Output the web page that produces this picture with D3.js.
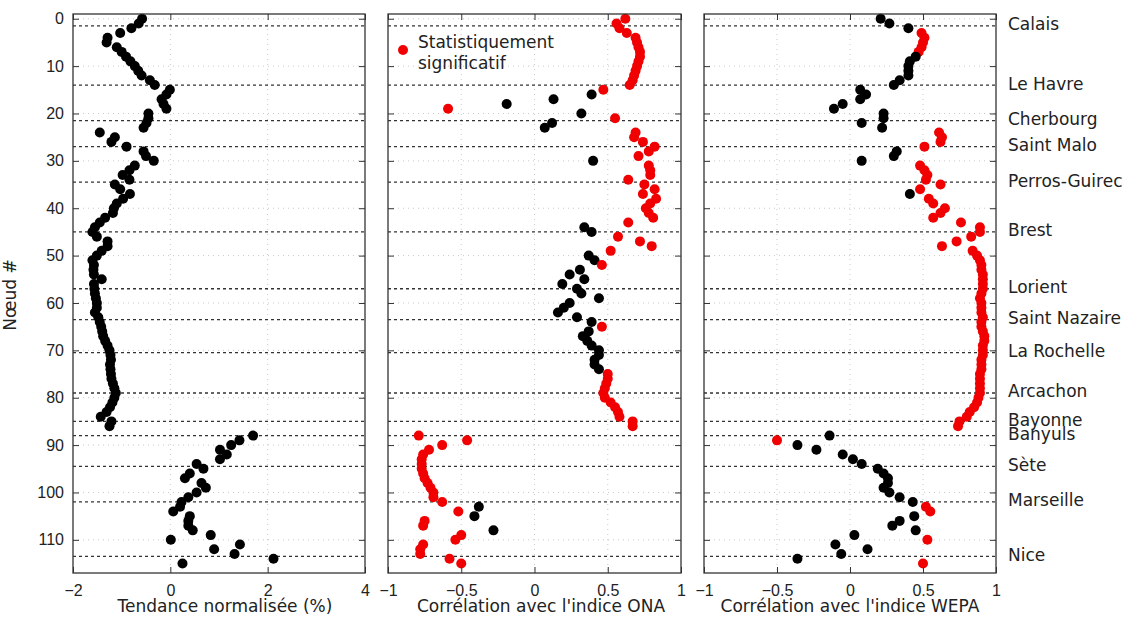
<!DOCTYPE html>
<html>
<head>
<meta charset="utf-8">
<script src="https://cdn.jsdelivr.net/npm/d3@7"></script>
<style>
  body { margin: 0; background: #fff; }
  text { font-family: "DejaVu Sans", sans-serif; fill: #222; }
</style>
</head>
<body>
<svg id="chart" width="1128" height="617"></svg>
<script>
// data ------------------------------------------------------------------------
// one value per node (0..115), node 87 has no data
var tendance = [-0.58, -0.65, -0.80, -1.03, -1.29, -1.31, -1.10, -1.00, -0.91, -0.82,
    -0.73, -0.66, -0.59, -0.42, -0.32, -0.01, -0.08, -0.18, -0.14, -0.08,
    -0.45, -0.45, -0.49, -0.55, -1.45, -1.14, -1.21, -0.90, -0.55, -0.50,
    -0.34, -0.73, -0.84, -0.98, -0.84, -1.14, -1.03, -0.83, -0.97, -1.10,
    -1.16, -1.18, -1.34, -1.45, -1.55, -1.60, -1.51, -1.29, -1.29, -1.41,
    -1.51, -1.60, -1.57, -1.58, -1.57, -1.41, -1.57, -1.56, -1.55, -1.53,
    -1.51, -1.51, -1.55, -1.48, -1.45, -1.42, -1.40, -1.38, -1.34, -1.29,
    -1.25, -1.23, -1.22, -1.24, -1.23, -1.22, -1.21, -1.18, -1.15, -1.12,
    -1.15, -1.19, -1.24, -1.31, -1.43, -1.21, -1.25, null, 1.70, 1.42,
    1.25, 1.02, 1.16, 1.02, 0.54, 0.68, 0.40, 0.30, 0.64, 0.73,
    0.54, 0.37, 0.23, 0.20, 0.06, 0.40, 0.37, 0.37, 0.46, 0.83,
    0.01, 1.43, 0.90, 1.32, 2.12, 0.25];

var ona = [0.62, 0.56, 0.58, 0.63, 0.69, 0.70, 0.71, 0.72, 0.72, 0.71,
    0.70, 0.69, 0.68, 0.67, 0.65, 0.47, 0.39, 0.13, -0.19, -0.59,
    0.32, 0.55, 0.12, 0.07, 0.69, 0.68, 0.74, 0.82, 0.78, 0.71,
    0.40, 0.78, 0.79, 0.79, 0.64, 0.75, 0.82, 0.74, 0.83, 0.79,
    0.76, 0.78, 0.81, 0.64, 0.34, 0.39, 0.57, 0.72, 0.80, 0.52,
    0.37, 0.41, 0.46, 0.31, 0.24, 0.34, 0.19, 0.29, 0.32, 0.44,
    0.24, 0.20, 0.16, 0.29, 0.39, 0.46, 0.37, 0.33, 0.36, 0.39,
    0.44, 0.44, 0.41, 0.41, 0.44, 0.50, 0.50, 0.49, 0.48, 0.47,
    0.48, 0.52, 0.55, 0.57, 0.58, 0.67, 0.67, null, -0.79, -0.46,
    -0.63, -0.72, -0.76, -0.77, -0.77, -0.77, -0.76, -0.75, -0.73, -0.71,
    -0.69, -0.69, -0.63, -0.38, -0.52, -0.41, -0.75, -0.76, -0.28, -0.50,
    -0.54, -0.76, -0.78, -0.78, -0.58, -0.50];

var wepa = [0.21, 0.27, 0.40, 0.49, 0.51, 0.50, 0.49, 0.47, 0.45, 0.41,
    0.40, 0.40, 0.40, 0.34, 0.30, 0.07, 0.11, 0.07, -0.05, -0.11,
    0.23, 0.23, 0.08, 0.22, 0.61, 0.63, 0.62, 0.51, 0.32, 0.30,
    0.08, 0.48, 0.51, 0.53, 0.52, 0.62, 0.48, 0.41, 0.54, 0.57,
    0.65, 0.62, 0.57, 0.76, 0.89, 0.89, 0.83, 0.73, 0.63, 0.84,
    0.87, 0.89, 0.90, 0.90, 0.91, 0.91, 0.91, 0.91, 0.90, 0.89,
    0.90, 0.90, 0.90, 0.91, 0.90, 0.90, 0.91, 0.92, 0.92, 0.91,
    0.91, 0.91, 0.90, 0.90, 0.90, 0.89, 0.89, 0.89, 0.89, 0.89,
    0.88, 0.87, 0.85, 0.82, 0.80, 0.75, 0.74, null, -0.14, -0.50,
    -0.36, -0.23, -0.05, 0.02, 0.08, 0.19, 0.23, 0.26, 0.26, 0.23,
    0.27, 0.34, 0.43, 0.52, 0.55, 0.44, 0.34, 0.29, 0.45, 0.03,
    0.53, -0.10, 0.12, -0.06, -0.36, 0.50];

// 1 = statistiquement significatif (red)
var onaSig = [1, 1, 1, 1, 1, 1, 1, 1, 1, 1, 1, 1, 1, 1, 1, 1, 0, 0, 0, 1,
    0, 1, 0, 0, 1, 1, 1, 1, 1, 1, 0, 1, 1, 1, 1, 1, 1, 1, 1, 1,
    1, 1, 1, 1, 0, 0, 1, 1, 1, 1, 0, 0, 1, 0, 0, 0, 0, 0, 0, 0,
    0, 0, 0, 0, 0, 1, 0, 0, 0, 0, 0, 0, 0, 0, 0, 1, 1, 1, 1, 1,
    1, 1, 1, 1, 1, 1, 1, 0, 1, 1, 1, 1, 1, 1, 1, 1, 1, 1, 1, 1,
    1, 1, 1, 0, 1, 0, 1, 1, 0, 1, 1, 1, 1, 1, 1, 1];

var wepaSig = [0, 0, 0, 1, 1, 1, 1, 1, 0, 0, 0, 0, 0, 0, 0, 0, 0, 0, 0, 0,
    0, 0, 0, 0, 1, 1, 1, 1, 0, 0, 0, 1, 1, 1, 1, 1, 1, 0, 1, 1,
    1, 1, 1, 1, 1, 1, 1, 1, 1, 1, 1, 1, 1, 1, 1, 1, 1, 1, 1, 1,
    1, 1, 1, 1, 1, 1, 1, 1, 1, 1, 1, 1, 1, 1, 1, 1, 1, 1, 1, 1,
    1, 1, 1, 1, 1, 1, 1, 0, 0, 1, 0, 0, 0, 0, 0, 0, 0, 0, 0, 0,
    0, 0, 0, 1, 1, 0, 0, 0, 0, 0, 1, 0, 0, 0, 0, 1];

var cities = ["Calais", "Le Havre", "Cherbourg", "Saint Malo", "Perros-Guirec", "Brest", "Lorient",
    "Saint Nazaire", "La Rochelle", "Arcachon", "Bayonne", "Banyuls", "Sète", "Marseille", "Nice"];
var cityNodes = [1.5, 14, 21.5, 27, 34.5, 45, 57, 63.5, 70.5, 79, 85, 88, 94.5, 102, 113.5];

var yTicks = [0, 10, 20, 30, 40, 50, 60, 70, 80, 90, 100, 110];
var trendTicks = [-2, 0, 2, 4];
var corrTicks = [-1, -0.5, 0, 0.5, 1];

// layout ----------------------------------------------------------------------
var plotTop = 14, plotBottom = 573;
var svg = d3.select("#chart");

var y = d3.scaleLinear()
    .domain([-1, 117])
    .range([plotTop, plotBottom]);

var panels = [
    { values: tendance, sig: null, x0: 73, x1: 365, domain: [-2, 4], ticks: trendTicks, title: "Tendance normalisée (%)", titleX: 225 },
    { values: ona, sig: onaSig, x0: 388, x1: 681, domain: [-1, 1], ticks: corrTicks, title: "Corrélation avec l'indice ONA", titleX: 541 },
    { values: wepa, sig: wepaSig, x0: 704, x1: 996, domain: [-1, 1], ticks: corrTicks, title: "Corrélation avec l'indice WEPA", titleX: 850 }
];

var fmt = d3.format("~g");

panels.forEach(function (p, pi) {
    var x = d3.scaleLinear().domain(p.domain).range([p.x0, p.x1]);
    var g = svg.append("g");

    // grid (light dotted)
    g.selectAll(".vgrid")
        .data(p.ticks.slice(1, -1))
        .enter().append("line")
        .attr("x1", function (d) { return x(d); })
        .attr("x2", function (d) { return x(d); })
        .attr("y1", plotTop).attr("y2", plotBottom)
        .attr("stroke", "#c8c8c8")
        .attr("stroke-dasharray", "1,4");

    g.selectAll(".hgrid")
        .data(yTicks)
        .enter().append("line")
        .attr("x1", p.x0).attr("x2", p.x1)
        .attr("y1", function (d) { return y(d); })
        .attr("y2", function (d) { return y(d); })
        .attr("stroke", "#c8c8c8")
        .attr("stroke-dasharray", "1,4");

    // city separators
    g.selectAll(".city")
        .data(cityNodes)
        .enter().append("line")
        .attr("x1", p.x0).attr("x2", p.x1)
        .attr("y1", function (d) { return y(d); })
        .attr("y2", function (d) { return y(d); })
        .attr("stroke", "#333")
        .attr("stroke-width", 1.3)
        .attr("stroke-dasharray", "3,3");

    // points
    g.selectAll("circle")
        .data(p.values.map(function (v, i) { return { node: i, v: v, s: p.sig ? p.sig[i] : 0 }; })
            .filter(function (d) { return d.v !== null; }))
        .enter().append("circle")
        .attr("cx", function (d) { return x(d.v); })
        .attr("cy", function (d) { return y(d.node); })
        .attr("r", 5)
        .attr("fill", function (d) { return d.s ? "#f00000" : "#000"; });

    // axes, ticks inward
    g.append("g")
        .attr("transform", "translate(0," + plotBottom + ")")
        .call(d3.axisBottom(x).tickValues(p.ticks).tickFormat(fmt).tickSize(-6).tickPadding(12));
    g.append("g")
        .attr("transform", "translate(0," + plotTop + ")")
        .call(d3.axisTop(x).tickValues(p.ticks).tickFormat("").tickSize(-6));
    g.append("g")
        .attr("transform", "translate(" + p.x0 + ",0)")
        .call(d3.axisLeft(y).tickValues(yTicks).tickFormat(pi == 0 ? fmt : "").tickSize(-6).tickPadding(9));
    g.append("g")
        .attr("transform", "translate(" + p.x1 + ",0)")
        .call(d3.axisRight(y).tickValues(yTicks).tickFormat("").tickSize(-6));

    g.selectAll(".domain").remove();
    g.selectAll(".tick line").attr("stroke", "#333");
    g.selectAll(".tick text")
        .attr("fill", "#222")
        .style("font-family", "'Liberation Sans', Arial, sans-serif")
        .style("font-size", "16px");

    // frame
    g.append("rect")
        .attr("x", p.x0).attr("y", plotTop)
        .attr("width", p.x1 - p.x0).attr("height", plotBottom - plotTop)
        .attr("fill", "none")
        .attr("stroke", "#333")
        .attr("stroke-width", 1.3);

    // x label
    g.append("text")
        .attr("x", p.titleX)
        .attr("y", 612)
        .attr("text-anchor", "middle")
        .style("font-size", "17px")
        .text(p.title);
});

// y label
svg.append("text")
    .attr("transform", "translate(16,295) rotate(-90)")
    .attr("text-anchor", "middle")
    .style("font-size", "17px")
    .text("Nœud #");

// city names on the right
svg.selectAll(".cityname")
    .data(cities)
    .enter().append("text")
    .attr("x", 1008)
    .attr("y", function (d, i) { return y(cityNodes[i]) - 1.5; })
    .attr("dominant-baseline", "central")
    .style("font-size", "17px")
    .text(function (d) { return d; });

// legend
svg.append("circle")
    .attr("cx", 403).attr("cy", 50).attr("r", 5)
    .attr("fill", "#f00000");
svg.append("text")
    .attr("x", 418).attr("y", 42)
    .attr("dominant-baseline", "central")
    .style("font-size", "17px")
    .text("Statistiquement");
svg.append("text")
    .attr("x", 418).attr("y", 63)
    .attr("dominant-baseline", "central")
    .style("font-size", "17px")
    .text("significatif");
</script>
</body>
</html>
